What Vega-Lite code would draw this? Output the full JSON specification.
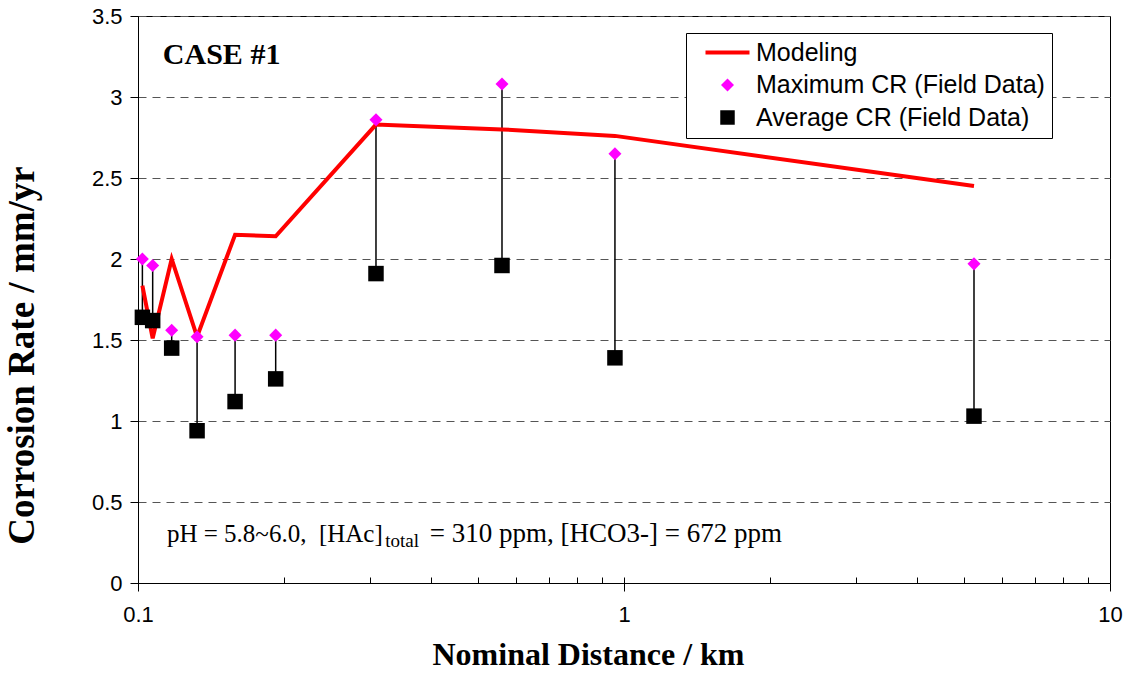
{
  "$schema": "https://vega.github.io/schema/vega-lite/v6.json",
  "width": 972,
  "height": 567,
  "autosize": "none",
  "padding": {"left": 138, "top": 16, "right": 19, "bottom": 90},
  "background": "white",
  "config": {
    "view": {"stroke": "black", "strokeWidth": 1},
    "axis": {
      "domainColor": "black",
      "tickColor": "black",
      "labelColor": "black",
      "titleColor": "black",
      "labelFont": "Liberation Sans",
      "labelFontSize": 22,
      "labelFontWeight": "normal"
    }
  },
  "datasets": {
    "field": [
      {"x": 0.1021, "max": 2.00, "avg": 1.64},
      {"x": 0.1072, "max": 1.96, "avg": 1.62},
      {"x": 0.1173, "max": 1.56, "avg": 1.45},
      {"x": 0.1323, "max": 1.52, "avg": 0.94},
      {"x": 0.1584, "max": 1.53, "avg": 1.12},
      {"x": 0.1920, "max": 1.53, "avg": 1.26},
      {"x": 0.3088, "max": 2.86, "avg": 1.91},
      {"x": 0.561, "max": 3.08, "avg": 1.96},
      {"x": 0.958, "max": 2.65, "avg": 1.39},
      {"x": 5.25, "max": 1.97, "avg": 1.03}
    ],
    "model": [
      {"x": 0.1021, "cr": 1.835, "series": "Modeling"},
      {"x": 0.1072, "cr": 1.51, "series": "Modeling"},
      {"x": 0.1173, "cr": 2.00, "series": "Modeling"},
      {"x": 0.1323, "cr": 1.52, "series": "Modeling"},
      {"x": 0.1584, "cr": 2.15, "series": "Modeling"},
      {"x": 0.1920, "cr": 2.14, "series": "Modeling"},
      {"x": 0.3088, "cr": 2.83, "series": "Modeling"},
      {"x": 0.561, "cr": 2.80, "series": "Modeling"},
      {"x": 0.958, "cr": 2.76, "series": "Modeling"},
      {"x": 5.25, "cr": 2.45, "series": "Modeling"}
    ]
  },
  "resolve": {"axis": {"x": "independent"}},
  "layer": [
    {
      "data": {"name": "field"},
      "mark": {"type": "rule", "color": "black", "strokeWidth": 1.5},
      "encoding": {
        "x": {
          "field": "x", "type": "quantitative",
          "scale": {"type": "log", "domain": [0.1, 10], "nice": false},
          "axis": {
            "orient": "bottom",
            "values": [0.2, 0.3, 0.4, 0.5, 0.6, 0.7, 0.8, 0.9, 1, 2, 3, 4, 5, 6, 7, 8, 9],
            "labels": false, "domain": false, "grid": false, "title": null,
            "tickSize": -6
          }
        },
        "y": {
          "field": "max", "type": "quantitative",
          "scale": {"domain": [0, 3.5], "nice": false, "zero": true},
          "axis": {
            "values": [0, 0.5, 1, 1.5, 2, 2.5, 3, 3.5],
            "format": "~g",
            "tickSize": 8,
            "labelPadding": 8,
            "grid": true,
            "gridDash": [8, 6],
            "gridColor": "#555555",
            "gridWidth": 1,
            "title": "Corrosion Rate / mm/yr",
            "titleFont": "Liberation Serif",
            "titleFontSize": 37,
            "titleFontWeight": "bold",
            "titleX": -116,
            "titleY": 339,
            "titleAngle": 270,
            "titleAlign": "center",
            "titleBaseline": "middle"
          }
        },
        "y2": {"field": "avg"}
      }
    },
    {
      "data": {"name": "model"},
      "mark": {"type": "line", "strokeWidth": 4, "strokeJoin": "miter"},
      "encoding": {
        "x": {
          "field": "x", "type": "quantitative",
          "axis": {
            "orient": "bottom",
            "values": [0.1, 1, 10],
            "format": "~g",
            "tickSize": 8,
            "labelPadding": 13,
            "labelFlush": false,
            "grid": false,
            "title": "Nominal Distance / km",
            "titleFont": "Liberation Serif",
            "titleFontSize": 32,
            "titleFontWeight": "bold",
            "titleX": 450,
            "titleY": 71,
            "titleAlign": "center",
            "titleBaseline": "middle"
          }
        },
        "y": {"field": "cr", "type": "quantitative"},
        "color": {
          "field": "series", "type": "nominal",
          "scale": {
            "domain": ["Modeling", "Maximum CR (Field Data)", "Average CR (Field Data)"],
            "range": ["#ff0000", "#ff00ff", "#000000"]
          },
          "legend": {
            "title": null,
            "orient": "none",
            "legendX": 548,
            "legendY": 17,
            "padding": 7,
            "strokeColor": "black",
            "fillColor": "white",
            "symbolSize": 225,
            "symbolOffset": 22,
            "labelOffset": 16,
            "labelFont": "Liberation Sans",
            "labelFontSize": 25,
            "labelColor": "black",
            "labelLimit": 500,
            "rowPadding": 6.5,
            "encode": {
              "symbols": {
                "update": {
                  "shape": {"signal": "datum.value === 'Modeling' ? 'stroke' : (datum.value === 'Maximum CR (Field Data)' ? 'diamond' : 'square')"},
                  "fill": {"signal": "datum.value === 'Modeling' ? 'transparent' : (datum.value === 'Maximum CR (Field Data)' ? '#ff00ff' : '#000000')"},
                  "stroke": {"signal": "datum.value === 'Modeling' ? '#ff0000' : 'transparent'"},
                  "strokeWidth": {"signal": "datum.value === 'Modeling' ? 4 : 0"},
                  "size": {"signal": "datum.value === 'Modeling' ? 1936 : (datum.value === 'Maximum CR (Field Data)' ? 170 : 210)"},
                  "opacity": {"value": 1}
                }
              }
            }
          }
        }
      }
    },
    {
      "data": {"name": "field"},
      "mark": {"type": "point", "shape": "diamond", "filled": true, "color": "#ff00ff", "size": 170, "opacity": 1},
      "encoding": {
        "x": {"field": "x", "type": "quantitative", "axis": null},
        "y": {"field": "max", "type": "quantitative"}
      }
    },
    {
      "data": {"name": "field"},
      "mark": {"type": "point", "shape": "square", "filled": true, "color": "#000000", "size": 240, "opacity": 1},
      "encoding": {
        "x": {"field": "x", "type": "quantitative", "axis": null},
        "y": {"field": "avg", "type": "quantitative"}
      }
    },
    {
      "data": {"values": [{"x": 0.1125, "y": 3.26, "label": "CASE #1"}]},
      "mark": {"type": "text", "font": "Liberation Serif", "fontSize": 30, "fontWeight": "bold", "align": "left", "baseline": "middle", "color": "black"},
      "encoding": {
        "x": {"field": "x", "type": "quantitative", "axis": null},
        "y": {"field": "y", "type": "quantitative"},
        "text": {"field": "label"}
      }
    },
    {
      "data": {"values": [{"x": 0.1147, "y": 0.253, "label": "pH = 5.8~6.0,\u00a0 [HAc]"}]},
      "mark": {"type": "text", "font": "Liberation Serif", "fontSize": 25, "align": "left", "baseline": "alphabetic", "color": "black"},
      "encoding": {
        "x": {"field": "x", "type": "quantitative", "axis": null},
        "y": {"field": "y", "type": "quantitative"},
        "text": {"field": "label"}
      }
    },
    {
      "data": {"values": [{"x": 0.3495, "y": 0.225, "label": "total"}]},
      "mark": {"type": "text", "font": "Liberation Serif", "fontSize": 19, "align": "center", "baseline": "alphabetic", "color": "black"},
      "encoding": {
        "x": {"field": "x", "type": "quantitative", "axis": null},
        "y": {"field": "y", "type": "quantitative"},
        "text": {"field": "label"}
      }
    },
    {
      "data": {"values": [{"x": 0.3985, "y": 0.253, "label": "= 310 ppm, [HCO3-] = 672 ppm"}]},
      "mark": {"type": "text", "font": "Liberation Serif", "fontSize": 27, "align": "left", "baseline": "alphabetic", "color": "black"},
      "encoding": {
        "x": {"field": "x", "type": "quantitative", "axis": null},
        "y": {"field": "y", "type": "quantitative"},
        "text": {"field": "label"}
      }
    }
  ]
}
